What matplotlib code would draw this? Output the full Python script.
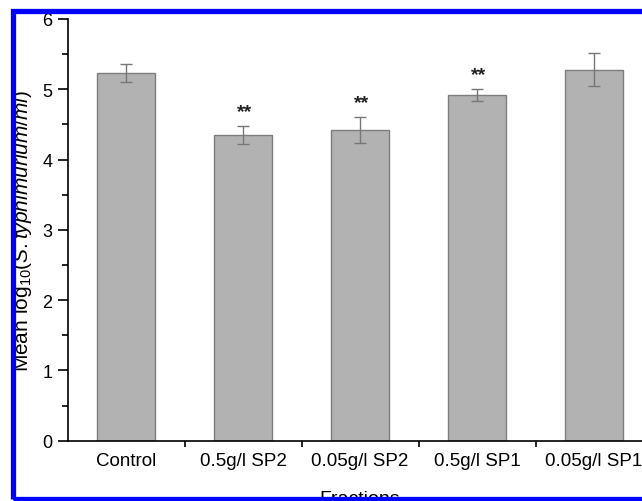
import matplotlib
matplotlib.use("Agg")
import matplotlib.pyplot as plt
from matplotlib.patches import Rectangle
from matplotlib.ticker import FixedLocator, MultipleLocator
import numpy as np

categories = ['Control', '0.5g/l SP2', '0.05g/l SP2', '0.5g/l SP1', '0.05g/l SP1']
means = [5.23, 4.35, 4.42, 4.92, 5.28]
errors = [0.13, 0.13, 0.18, 0.08, 0.24]
significance = ['', '**', '**', '**', '']

plt.rcParams['font.family'] = ['Liberation Sans', 'DejaVu Sans']
plt.rcParams['mathtext.fontset'] = 'custom'
plt.rcParams['mathtext.rm'] = 'Liberation Sans'
plt.rcParams['mathtext.it'] = 'Liberation Sans:italic'
plt.rcParams['mathtext.bf'] = 'Liberation Sans:bold'

W, H = 642, 502
fig = plt.figure(figsize=(W / 100, H / 100), dpi=100)
left = 67.5 / W
bottom = 1 - 441.7 / H
top = 1 - 20 / H
ax = fig.add_axes([left, bottom, 585 / W, top - bottom])

x = np.arange(len(categories))
ax.bar(x, means, width=0.5, color='#b2b2b2', edgecolor='#7d7d7d', linewidth=1.0, zorder=2)
ax.errorbar(x, means, yerr=errors, fmt='none', ecolor='#777777', elinewidth=1.0,
            capsize=4, capthick=1.0, zorder=3)
for xi, m, e, s in zip(x, means, errors, significance):
    if s:
        ax.text(xi + 0.01, m + e + 0.14, s, ha='center', va='baseline', fontsize=14,
                fontweight='bold', color='#222222')

ax.set_xlim(-0.5, len(categories) - 0.5)
ax.set_ylim(0, 6)
ax.spines['top'].set_visible(False)
ax.spines['right'].set_visible(False)
ax.spines['left'].set_linewidth(1.2)
ax.spines['bottom'].set_linewidth(1.2)

ax.set_xticks(x)
ax.set_xticklabels(categories, fontsize=13.5)
ax.xaxis.set_minor_locator(FixedLocator(np.arange(0.5, len(categories) - 0.5, 1.0)))
ax.tick_params(axis='x', which='major', length=0, pad=8)
ax.tick_params(axis='x', which='minor', length=4, width=1.2, direction='out')

ax.yaxis.set_major_locator(MultipleLocator(1))
ax.yaxis.set_minor_locator(MultipleLocator(0.5))
ax.tick_params(axis='y', which='major', length=7, width=1.2, direction='out', labelsize=13, pad=4)
ax.tick_params(axis='y', which='minor', length=4, width=1.2, direction='out')

ax.set_xlabel('Fractions', fontsize=14, labelpad=15)
ax.set_ylabel(r'Mean log$_{10}$(' + r'$\it{S.typhimurium/ml}$' + ')', fontsize=15)
ax.yaxis.set_label_coords((34 - 67.5) / 585, 0.5)

border = Rectangle((12.5 / W, 2.5 / H), 1.2, (499.5 - 11.5) / H,
                   transform=fig.transFigure, fill=False, edgecolor='#0000ff',
                   linewidth=3.8, zorder=10, clip_on=False)
fig.add_artist(border)

fig.savefig('out.png', dpi=100)
